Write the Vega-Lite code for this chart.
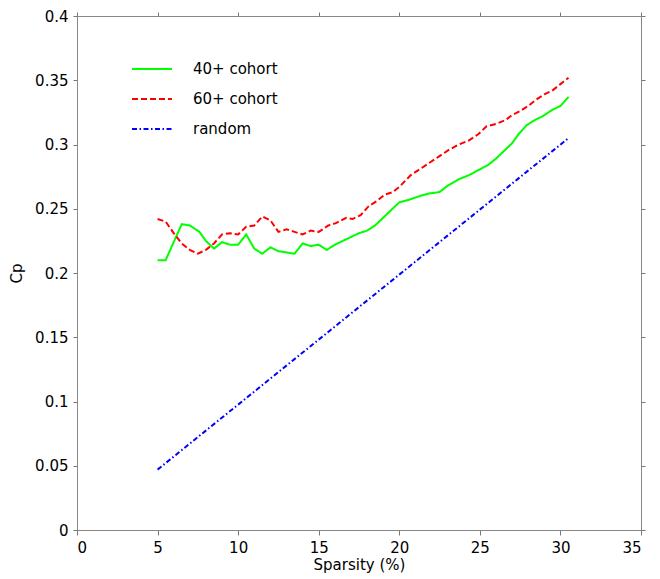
{
  "$schema": "https://vega.github.io/schema/vega-lite/v6.json",
  "width": 564,
  "height": 514,
  "autosize": {"type": "none"},
  "padding": {"left": 77, "top": 16, "right": 19, "bottom": 49},
  "background": "white",
  "config": {
    "font": "DejaVu Sans",
    "view": {"stroke": "#888888", "strokeWidth": 1},
    "axis": {"grid": false, "domainColor": "#888888", "tickColor": "#777777", "labelColor": "black", "titleColor": "black", "labelFont": "DejaVu Sans", "titleFont": "DejaVu Sans", "labelFontSize": 15, "titleFontSize": 15, "titleFontWeight": "normal"}
  },
  "datasets": {
    "curves": [
      {"sparsity": 5.0, "cp": 0.210, "series": "40+ cohort"},
      {"sparsity": 5.5, "cp": 0.210, "series": "40+ cohort"},
      {"sparsity": 6.5, "cp": 0.238, "series": "40+ cohort"},
      {"sparsity": 7.0, "cp": 0.237, "series": "40+ cohort"},
      {"sparsity": 7.6, "cp": 0.232, "series": "40+ cohort"},
      {"sparsity": 8.0, "cp": 0.225, "series": "40+ cohort"},
      {"sparsity": 8.5, "cp": 0.219, "series": "40+ cohort"},
      {"sparsity": 9.0, "cp": 0.224, "series": "40+ cohort"},
      {"sparsity": 9.5, "cp": 0.222, "series": "40+ cohort"},
      {"sparsity": 10.0, "cp": 0.222, "series": "40+ cohort"},
      {"sparsity": 10.5, "cp": 0.230, "series": "40+ cohort"},
      {"sparsity": 11.0, "cp": 0.219, "series": "40+ cohort"},
      {"sparsity": 11.5, "cp": 0.215, "series": "40+ cohort"},
      {"sparsity": 12.0, "cp": 0.220, "series": "40+ cohort"},
      {"sparsity": 12.5, "cp": 0.217, "series": "40+ cohort"},
      {"sparsity": 13.0, "cp": 0.216, "series": "40+ cohort"},
      {"sparsity": 13.5, "cp": 0.215, "series": "40+ cohort"},
      {"sparsity": 14.0, "cp": 0.223, "series": "40+ cohort"},
      {"sparsity": 14.5, "cp": 0.221, "series": "40+ cohort"},
      {"sparsity": 15.0, "cp": 0.222, "series": "40+ cohort"},
      {"sparsity": 15.5, "cp": 0.218, "series": "40+ cohort"},
      {"sparsity": 16.0, "cp": 0.222, "series": "40+ cohort"},
      {"sparsity": 16.5, "cp": 0.225, "series": "40+ cohort"},
      {"sparsity": 17.0, "cp": 0.228, "series": "40+ cohort"},
      {"sparsity": 17.5, "cp": 0.231, "series": "40+ cohort"},
      {"sparsity": 18.0, "cp": 0.233, "series": "40+ cohort"},
      {"sparsity": 18.5, "cp": 0.237, "series": "40+ cohort"},
      {"sparsity": 19.0, "cp": 0.243, "series": "40+ cohort"},
      {"sparsity": 19.5, "cp": 0.249, "series": "40+ cohort"},
      {"sparsity": 20.0, "cp": 0.255, "series": "40+ cohort"},
      {"sparsity": 20.6, "cp": 0.257, "series": "40+ cohort"},
      {"sparsity": 21.3, "cp": 0.260, "series": "40+ cohort"},
      {"sparsity": 21.9, "cp": 0.262, "series": "40+ cohort"},
      {"sparsity": 22.5, "cp": 0.263, "series": "40+ cohort"},
      {"sparsity": 23.0, "cp": 0.268, "series": "40+ cohort"},
      {"sparsity": 23.7, "cp": 0.273, "series": "40+ cohort"},
      {"sparsity": 24.3, "cp": 0.276, "series": "40+ cohort"},
      {"sparsity": 24.9, "cp": 0.280, "series": "40+ cohort"},
      {"sparsity": 25.5, "cp": 0.284, "series": "40+ cohort"},
      {"sparsity": 26.0, "cp": 0.289, "series": "40+ cohort"},
      {"sparsity": 26.5, "cp": 0.295, "series": "40+ cohort"},
      {"sparsity": 27.0, "cp": 0.301, "series": "40+ cohort"},
      {"sparsity": 27.4, "cp": 0.308, "series": "40+ cohort"},
      {"sparsity": 27.9, "cp": 0.315, "series": "40+ cohort"},
      {"sparsity": 28.4, "cp": 0.319, "series": "40+ cohort"},
      {"sparsity": 28.9, "cp": 0.322, "series": "40+ cohort"},
      {"sparsity": 29.5, "cp": 0.327, "series": "40+ cohort"},
      {"sparsity": 30.0, "cp": 0.330, "series": "40+ cohort"},
      {"sparsity": 30.5, "cp": 0.337, "series": "40+ cohort"},
      {"sparsity": 5.0, "cp": 0.242, "series": "60+ cohort"},
      {"sparsity": 5.5, "cp": 0.240, "series": "60+ cohort"},
      {"sparsity": 6.0, "cp": 0.231, "series": "60+ cohort"},
      {"sparsity": 6.5, "cp": 0.223, "series": "60+ cohort"},
      {"sparsity": 7.0, "cp": 0.218, "series": "60+ cohort"},
      {"sparsity": 7.5, "cp": 0.215, "series": "60+ cohort"},
      {"sparsity": 8.0, "cp": 0.218, "series": "60+ cohort"},
      {"sparsity": 8.5, "cp": 0.223, "series": "60+ cohort"},
      {"sparsity": 9.0, "cp": 0.230, "series": "60+ cohort"},
      {"sparsity": 9.5, "cp": 0.231, "series": "60+ cohort"},
      {"sparsity": 10.0, "cp": 0.230, "series": "60+ cohort"},
      {"sparsity": 10.5, "cp": 0.236, "series": "60+ cohort"},
      {"sparsity": 11.0, "cp": 0.237, "series": "60+ cohort"},
      {"sparsity": 11.5, "cp": 0.244, "series": "60+ cohort"},
      {"sparsity": 12.0, "cp": 0.241, "series": "60+ cohort"},
      {"sparsity": 12.5, "cp": 0.232, "series": "60+ cohort"},
      {"sparsity": 13.0, "cp": 0.234, "series": "60+ cohort"},
      {"sparsity": 13.5, "cp": 0.232, "series": "60+ cohort"},
      {"sparsity": 14.0, "cp": 0.230, "series": "60+ cohort"},
      {"sparsity": 14.5, "cp": 0.233, "series": "60+ cohort"},
      {"sparsity": 15.0, "cp": 0.232, "series": "60+ cohort"},
      {"sparsity": 15.6, "cp": 0.237, "series": "60+ cohort"},
      {"sparsity": 16.1, "cp": 0.239, "series": "60+ cohort"},
      {"sparsity": 16.7, "cp": 0.243, "series": "60+ cohort"},
      {"sparsity": 17.1, "cp": 0.242, "series": "60+ cohort"},
      {"sparsity": 17.6, "cp": 0.245, "series": "60+ cohort"},
      {"sparsity": 18.1, "cp": 0.252, "series": "60+ cohort"},
      {"sparsity": 18.6, "cp": 0.256, "series": "60+ cohort"},
      {"sparsity": 19.1, "cp": 0.261, "series": "60+ cohort"},
      {"sparsity": 19.6, "cp": 0.263, "series": "60+ cohort"},
      {"sparsity": 20.0, "cp": 0.267, "series": "60+ cohort"},
      {"sparsity": 20.7, "cp": 0.276, "series": "60+ cohort"},
      {"sparsity": 21.3, "cp": 0.281, "series": "60+ cohort"},
      {"sparsity": 21.9, "cp": 0.286, "series": "60+ cohort"},
      {"sparsity": 22.5, "cp": 0.291, "series": "60+ cohort"},
      {"sparsity": 23.1, "cp": 0.296, "series": "60+ cohort"},
      {"sparsity": 23.7, "cp": 0.300, "series": "60+ cohort"},
      {"sparsity": 24.3, "cp": 0.303, "series": "60+ cohort"},
      {"sparsity": 24.9, "cp": 0.308, "series": "60+ cohort"},
      {"sparsity": 25.4, "cp": 0.314, "series": "60+ cohort"},
      {"sparsity": 26.0, "cp": 0.316, "series": "60+ cohort"},
      {"sparsity": 26.6, "cp": 0.319, "series": "60+ cohort"},
      {"sparsity": 27.0, "cp": 0.323, "series": "60+ cohort"},
      {"sparsity": 27.5, "cp": 0.326, "series": "60+ cohort"},
      {"sparsity": 28.0, "cp": 0.330, "series": "60+ cohort"},
      {"sparsity": 28.5, "cp": 0.335, "series": "60+ cohort"},
      {"sparsity": 29.0, "cp": 0.339, "series": "60+ cohort"},
      {"sparsity": 29.5, "cp": 0.342, "series": "60+ cohort"},
      {"sparsity": 30.0, "cp": 0.347, "series": "60+ cohort"},
      {"sparsity": 30.5, "cp": 0.352, "series": "60+ cohort"},
      {"sparsity": 5.0, "cp": 0.047, "series": "random"},
      {"sparsity": 30.5, "cp": 0.305, "series": "random"}
    ]
  },
  "data": {"name": "curves"},
  "layer": [
    {
      "mark": {"type": "line", "strokeWidth": 2, "clip": true},
      "encoding": {
        "x": {"field": "sparsity", "type": "quantitative", "scale": {"domain": [0, 35], "nice": false, "zero": false},
              "axis": {"orient": "bottom", "values": [0, 5, 10, 15, 20, 25, 30, 35], "domain": true, "tickSize": 5, "labelPadding": 5, "title": "Sparsity (%)", "titlePadding": 2}},
        "y": {"field": "cp", "type": "quantitative", "scale": {"domain": [0, 0.4], "nice": false},
              "axis": {"orient": "left", "values": [0, 0.05, 0.1, 0.15, 0.2, 0.25, 0.3, 0.35, 0.4], "format": "~g", "domain": true, "tickSize": 4, "labelPadding": 5, "title": "Cp", "titlePadding": 10}},
        "color": {"field": "series", "type": "nominal",
                  "scale": {"domain": ["40+ cohort", "60+ cohort", "random"], "range": ["#00ff00", "#ff0000", "#0000ff"]},
                  "legend": {"orient": "none", "legendX": 54, "legendY": 32, "title": null, "symbolType": "stroke", "symbolSize": 1600, "symbolStrokeWidth": 2, "labelFontSize": 15, "labelFont": "DejaVu Sans", "labelColor": "black", "labelOffset": 20, "rowPadding": 1, "padding": 0}},
        "strokeDash": {"field": "series", "type": "nominal",
                       "scale": {"domain": ["40+ cohort", "60+ cohort", "random"], "range": [[1, 0], [6, 3], [5, 2.5, 1.5, 2.5]]},
                       "legend": null},
        "order": {"field": "sparsity", "type": "quantitative"}
      }
    },
    {
      "mark": {"type": "line", "opacity": 0},
      "encoding": {
        "x": {"field": "sparsity", "type": "quantitative", "scale": {"domain": [0, 35], "nice": false, "zero": false},
              "axis": {"orient": "top", "values": [0, 5, 10, 15, 20, 25, 30, 35], "domain": true, "tickSize": 4, "labels": false, "title": null}},
        "y": {"field": "cp", "type": "quantitative", "scale": {"domain": [0, 0.4], "nice": false},
              "axis": {"orient": "right", "values": [0, 0.05, 0.1, 0.15, 0.2, 0.25, 0.3, 0.35, 0.4], "domain": true, "tickSize": 4, "labels": false, "title": null}},
        "detail": {"field": "series", "type": "nominal"}
      }
    }
  ],
  "resolve": {"axis": {"x": "independent", "y": "independent"}}
}
